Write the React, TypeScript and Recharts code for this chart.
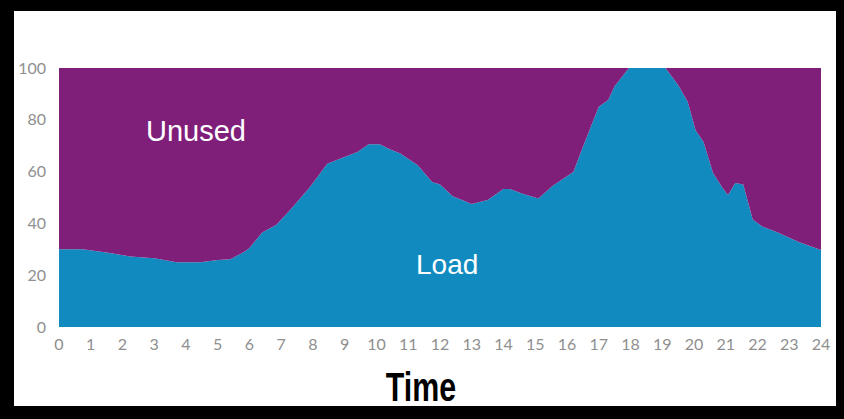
import { AreaChart, Area, XAxis, YAxis } from 'recharts';

// hour of day (numeric x) and load in %
const hours = [
  0, 0.75, 1.6, 2.25, 3, 3.7, 4.45, 5, 5.4, 5.8, 6, 6.4, 6.85, 7.3, 7.9, 8.45, 8.85, 9.4, 9.75,
  10.1, 10.4, 10.75, 11.3, 11.75, 12, 12.4, 13, 13.5, 14, 14.2, 14.6, 15.1, 15.55, 16.2, 16.5,
  17, 17.3, 17.5, 17.95, 19.1, 19.5, 19.8, 20.05, 20.3, 20.6, 20.9, 21.07, 21.3, 21.55, 21.85,
  22.15, 22.6, 23.3, 24,
];
const load = [
  30, 30, 28.6, 27.2, 26.5, 25, 25, 25.9, 26.2, 28.8, 30.5, 36.5, 39.5, 45.5, 54, 63, 65, 67.6, 70.6,
  70.6, 68.7, 67, 62.5, 56, 55, 50.5, 47.5, 49, 53.3, 53.3, 51.4, 49.6, 54.5, 59.8, 69.5,
  85, 87.6, 93, 100, 100, 93.4, 87, 76, 71.4, 59.5, 53.7, 51, 55.6, 55, 41.5,
  38.8, 36.7, 32.8, 29.7,
];
const xTicks = [0, 1, 2, 3, 4, 5, 6, 7, 8, 9, 10, 11, 12, 13, 14, 15, 16, 17, 18, 19, 20, 21, 22, 23, 24];
const yTicks = [0, 20, 40, 60, 80, 100];

const data = hours.map((h, i) => ({ hour: h, load: load[i], unused: 100 - load[i] }));

const BLUE = '#118bbf';
const PURPLE = '#7f1f7a';
const tickStyle = { fill: '#8f8f8f', fontSize: 16, fontFamily: 'Lato, sans-serif' };

export default function App() {
  return (
    <div style={{ position: 'fixed', left: 0, top: 0, width: 844, height: 419, background: '#000', overflow: 'hidden' }}>
      <div style={{ position: 'absolute', left: 14, top: 11, width: 822, height: 395, background: '#fff' }} />
      <div style={{ position: 'absolute', left: 0, top: 0 }}>
        <AreaChart width={844} height={419} data={data} margin={{ top: 68, right: 23, bottom: 62, left: 14 }}>
          <XAxis
            dataKey="hour"
            type="number"
            domain={[0, 24]}
            ticks={xTicks}
            interval={0}
            axisLine={false}
            tickLine={false}
            tickSize={0}
            tickMargin={12}
            height={30}
            tick={tickStyle}
          />
          <YAxis
            domain={[0, 100]}
            ticks={yTicks}
            axisLine={false}
            tickLine={false}
            tickSize={0}
            tickMargin={13}
            width={45}
            tick={tickStyle}
          />
          <Area type="linear" dataKey="load" stackId="a" stroke="none" fill={BLUE} fillOpacity={1} isAnimationActive={false} />
          <Area type="linear" dataKey="unused" stackId="a" stroke="none" fill={PURPLE} fillOpacity={1} isAnimationActive={false} />
        </AreaChart>
      </div>
      <div style={{ position: 'absolute', left: 146, top: 113, color: '#fff', fontFamily: '"Liberation Sans", Arial, sans-serif', fontSize: 29, lineHeight: '36px' }}>
        Unused
      </div>
      <div style={{ position: 'absolute', left: 416, top: 247, color: '#fff', fontFamily: '"Liberation Sans", Arial, sans-serif', fontSize: 28, lineHeight: '36px' }}>
        Load
      </div>
      <div
        style={{
          position: 'absolute',
          left: 321,
          top: 364,
          width: 200,
          textAlign: 'center',
          color: '#000',
          fontFamily: '"Liberation Sans Narrow", "Liberation Sans", Arial, sans-serif',
          fontWeight: 700,
          fontSize: 40,
          lineHeight: '46px',
          transform: 'scaleX(0.76)',
        }}
      >
        Time
      </div>
    </div>
  );
}
